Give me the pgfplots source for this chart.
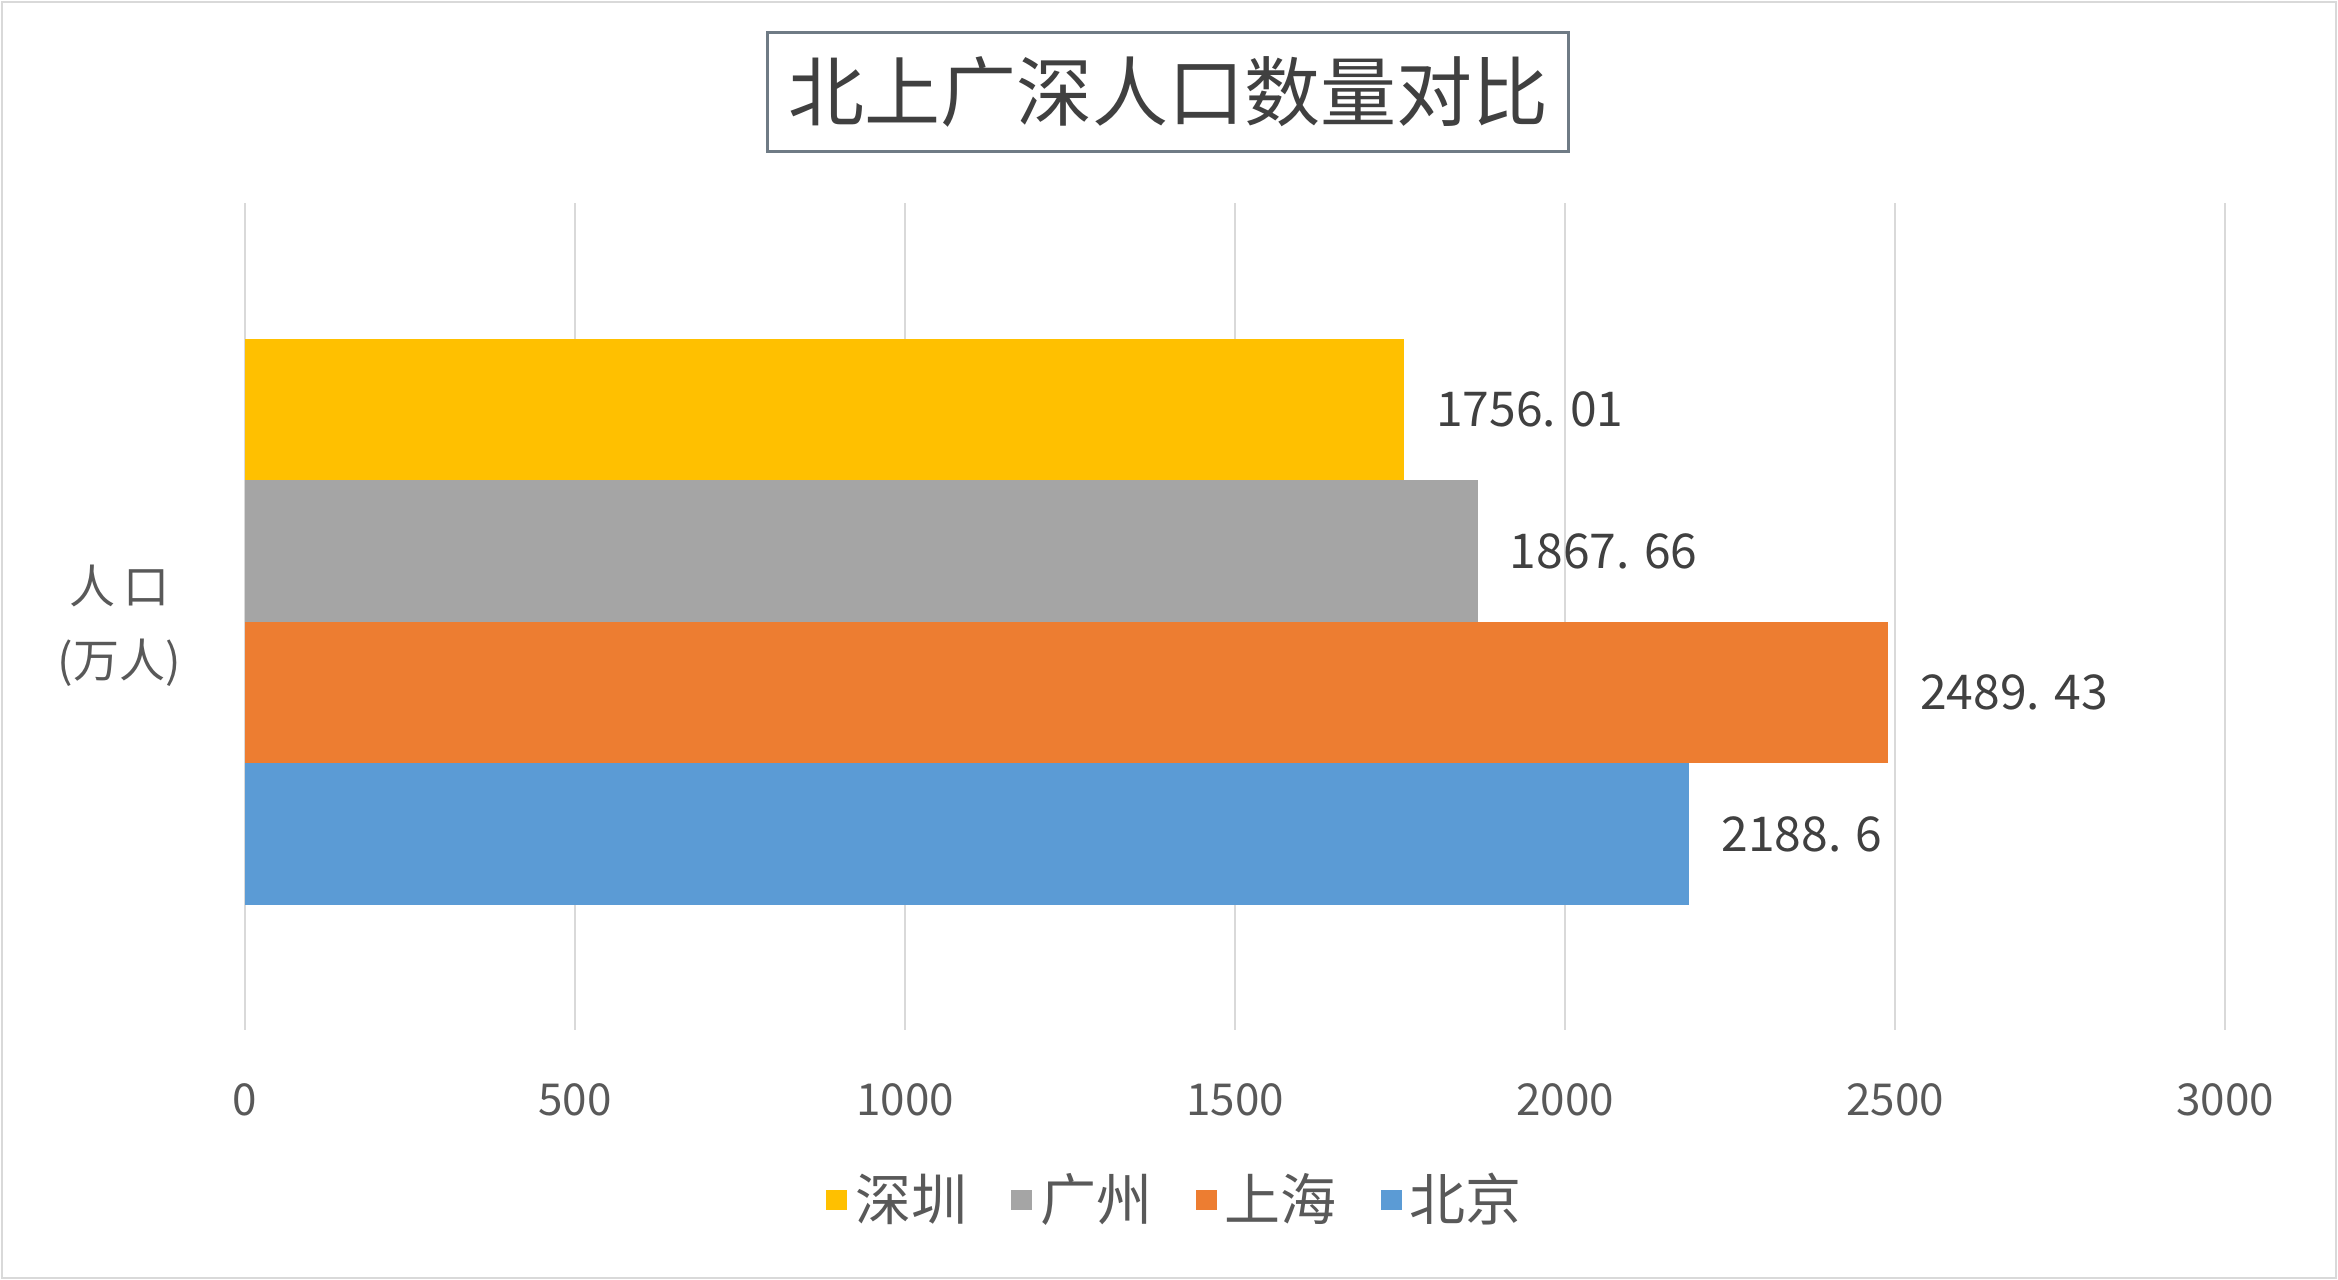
\documentclass[border=0pt]{standalone}
\usepackage{fontspec}
\usepackage{pgfplots}
\pgfplotsset{compat=1.18}
\setmainfont{Noto Sans CJK SC}
\definecolor{cyel}{HTML}{FFC000}
\definecolor{cgry}{HTML}{A5A5A5}
\definecolor{corg}{HTML}{ED7D31}
\definecolor{cblu}{HTML}{5B9BD5}
\definecolor{cgrid}{HTML}{D9D9D9}
\definecolor{ctxt}{HTML}{595959}
\definecolor{cdark}{HTML}{404040}
\definecolor{cbox}{HTML}{6F7B85}
\begin{document}
\begin{tikzpicture}
% page frame: 2338x1280 px at 0.25pt/px
\fill[white] (0,0) rectangle (584.5pt,320pt);
\draw[cgrid,line width=0.6pt] (0.5pt,0.5pt) rectangle (584pt,319.5pt);
\begin{axis}[
  at={(61.25pt,62.5pt)}, anchor=south west,
  scale only axis, width=495pt, height=206.75pt,
  xmin=0, xmax=3000, ymin=0, ymax=827,
  xtick={0,500,...,3000},
  ytick=\empty,
  axis line style={draw=none},
  major tick length=0pt,
  xmajorgrids, grid style={cgrid,line width=0.5pt},
  /pgf/number format/assume math mode=true,
  /pgf/number format/1000 sep={},
  xticklabel style={font=\fontsize{11}{13}\selectfont, text=ctxt, anchor=center, yshift=-17.5pt},
  xbar, bar width=141.5, bar shift=0pt,
  clip=false,
  point meta=explicit symbolic,
  nodes near coords,
  nodes near coords style={font=\fontsize{12}{14}\selectfont, text=cdark, anchor=west, xshift=4.5pt},
  legend style={at={(233.25pt,-42.5pt)}, anchor=center, legend columns=4, draw=none, fill=none,
    font=\fontsize{14}{16}\selectfont, text=ctxt,
    /tikz/every even column/.append style={column sep=9pt}},
  legend image code/.code={\fill[#1] (0pt,-2.6pt) rectangle (5.2pt,2.6pt);},
]
\addplot[fill=cyel, draw=none] coordinates {(1756.01,620.25) [1756. 01]};
\addlegendentry{深圳}
\addplot[fill=cgry, draw=none] coordinates {(1867.66,478.75) [1867. 66]};
\addlegendentry{广州}
\addplot[fill=corg, draw=none] coordinates {(2489.43,337.25) [2489. 43]};
\addlegendentry{上海}
\addplot[fill=cblu, draw=none] coordinates {(2188.6,195.75) [2188. 6]};
\addlegendentry{北京}
\end{axis}
% title
\node[draw=cbox, line width=0.6pt, minimum width=200.25pt, minimum height=29.75pt, inner sep=0pt,
  text=cdark, font=\fontsize{19}{21}\selectfont] at (292pt,297pt) {北上广深人口数量对比};
% y label
\node[text=ctxt, font=\fontsize{11.5}{18.5}\selectfont, align=center] at (29.8pt,163.5pt) {人\,口\\(万人)};
\end{tikzpicture}
\end{document}
